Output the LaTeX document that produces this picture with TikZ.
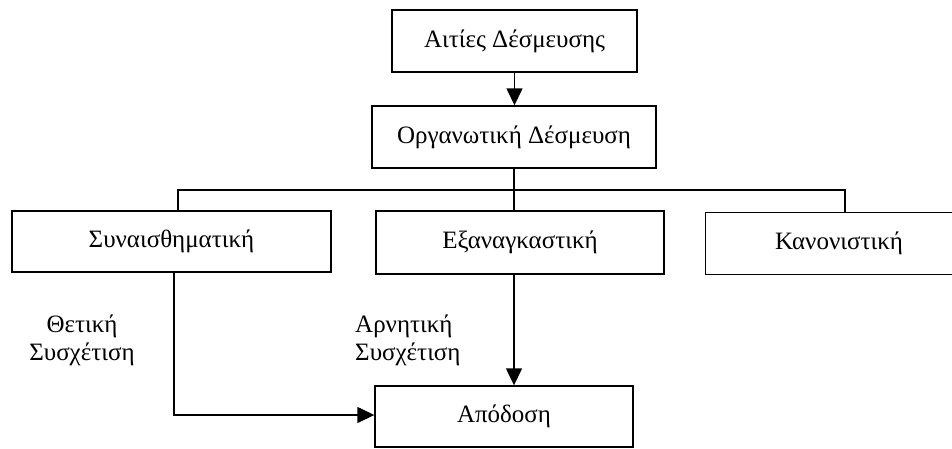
\documentclass[tikz,border=0pt]{standalone}
\usepackage{fontspec}
\setmainfont{Liberation Serif}
\usetikzlibrary{arrows.meta}
\begin{document}
\begin{tikzpicture}[x=1pt,y=-1pt,
  box/.style={draw,line width=1.4pt,rectangle,inner sep=0pt,
    font=\fontsize{25}{29}\selectfont},
  openbox/.style={box,draw=none},
  conn/.style={line width=1.4pt},
  arr/.style={conn,-{Triangle[length=17pt,width=16pt]}},
  lbl/.style={font=\fontsize{25}{28}\selectfont,inner sep=0pt}]
  \useasboundingbox (0,0) rectangle (952,448);
  % boxes
  \node[box,minimum width=245pt,minimum height=62pt] (b1) at (514.5,41) {Αιτίες Δέσμευσης};
  \node[box,minimum width=284pt,minimum height=62pt] (b2) at (514,137) {Οργανωτική Δέσμευση};
  \node[box,minimum width=319pt,minimum height=61pt] (sy) at (171.5,241.5) {Συναισθηματική};
  \node[box,minimum width=288pt,minimum height=63pt] (ex) at (520,242.5) {Εξαναγκαστική};
  \node[openbox,minimum width=266pt,minimum height=61pt] (ka) at (839,243.5) {Κανονιστική};
  \node[box,minimum width=258pt,minimum height=61pt] (ap) at (504,416.5) {Απόδοση};
  % the right-hand box runs off the page edge
  \coordinate (edge) at (952,0);
  \draw[conn] (edge |- ka.north) -- (ka.north west) -- (ka.south west) -- (edge |- ka.south);
  % labels
  \node[lbl,align=center] (pos) at (82,340) {Θετική\\Συσχέτιση};
  \node[lbl,align=left,anchor=west] (neg) at (355,340) {Αρνητική\\Συσχέτιση};
  % connectors
  \coordinate (jl) at (178,190);
  \coordinate (jr) at (845,190);
  \coordinate (bend) at (174,415);
  \draw[arr] (b1.south) -- (b1.south |- b2.north);
  \draw[conn] (b2.south) -- (b2.south |- ex.north);
  \draw[conn] (sy.north -| jl) -- (jl) -- (jr) -- (jr |- ka.north);
  \draw[arr] (ex.south -| b2.south) -- (ap.north -| b2.south);
  \draw[arr] (sy.south -| bend) -- (bend) -- (bend -| ap.west);
\end{tikzpicture}
\end{document}
